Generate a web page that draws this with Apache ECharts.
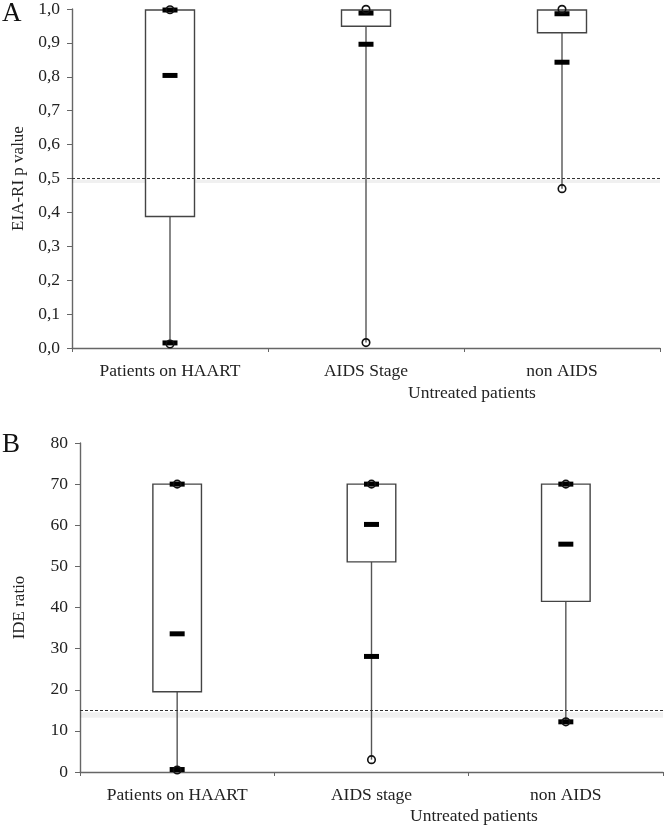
<!DOCTYPE html>
<html>
<head>
<meta charset="utf-8">
<script src="https://cdn.jsdelivr.net/npm/echarts@6/dist/echarts.min.js"></script>
<style>
html,body{margin:0;padding:0;background:#fff;}
#c{width:666px;height:827px;}
</style>
</head>
<body>
<div id="c"></div>
<script>
// ---------- Panel A data (EIA-RI p value) ----------
var catsA = ['Patients on HAART', 'AIDS Stage', 'non AIDS'];
var q1A = [0.388, 0.949, 0.930];
var q3A = [0.997, 0.997, 0.997];
var minA = [0.015, 0.016, 0.470];
var dashA = [[0, 0.997], [0, 0.804], [0, 0.015], [1, 0.988], [1, 0.896], [2, 0.986], [2, 0.843]];
var circA = [[0, 0.998], [0, 0.012], [1, 0.999], [1, 0.016], [2, 0.999], [2, 0.470]];
var cutA = 0.5;
var shadeA = [0.487, 0.497];

// ---------- Panel B data (IDE ratio) ----------
var catsB = ['Patients on HAART', 'AIDS stage', 'non AIDS'];
var q1B = [19.5, 51.1, 41.5];
var q3B = [70, 70, 70];
var minB = [0.6, 3.0, 12.2];
var dashB = [[0, 70], [0, 33.6], [0, 0.6], [1, 70], [1, 60.2], [1, 28.1], [2, 70], [2, 55.4], [2, 12.2]];
var circB = [[0, 70], [0, 0.5], [1, 70], [1, 3.0], [2, 70], [2, 12.2]];
var cutB = 14.9;
var shadeB = [13.2, 14.5];

var FONT = 'Liberation Serif';
var TXT = '#222';

function boxData(q1, q3, mn) {
  return q1.map(function (v, i) { return [i, v, q3[i], mn[i]]; });
}

function renderBox(params, api) {
  var x = api.value(0), q1 = api.value(1), q3 = api.value(2), mn = api.value(3);
  var pTop = api.coord([x, q3]);
  var pBot = api.coord([x, q1]);
  var pMin = api.coord([x, mn]);
  var w = api.size([1, 0])[0] * 0.25;
  return {
    type: 'group',
    children: [
      { type: 'line', shape: { x1: pBot[0], y1: pBot[1], x2: pMin[0], y2: pMin[1] },
        style: { stroke: '#555', lineWidth: 1.4 } },
      { type: 'rect', shape: { x: pTop[0] - w / 2, y: pTop[1], width: w, height: pBot[1] - pTop[1] },
        style: { fill: '#fff', stroke: '#444', lineWidth: 1.4 } }
    ]
  };
}

function xAxisCfg(grid, cats) {
  return {
    type: 'category', gridIndex: grid, data: cats,
    axisLine: { lineStyle: { color: '#666', width: 1.4 } },
    axisTick: { show: true, length: 4, lineStyle: { color: '#666' } },
    axisLabel: { color: TXT, fontFamily: FONT, fontSize: 17.5, margin: 14 },
    splitLine: { show: false }
  };
}

function yAxisCfg(grid, min, max, interval, name, gap, fmt) {
  return {
    type: 'value', gridIndex: grid, min: min, max: max, interval: interval,
    name: name, nameLocation: 'middle', nameGap: gap, nameRotate: 90,
    nameTextStyle: { color: TXT, fontFamily: FONT, fontSize: 17 },
    axisLine: { show: true, lineStyle: { color: '#666', width: 1.4 } },
    axisTick: { show: true, length: 5, lineStyle: { color: '#666' } },
    axisLabel: { color: TXT, fontFamily: FONT, fontSize: 17.5, margin: 12, formatter: fmt },
    splitLine: { show: false }
  };
}

function cutLine(val) {
  return {
    silent: true, symbol: 'none', label: { show: false },
    lineStyle: { color: '#333', type: [3, 2], width: 1 },
    data: [{ yAxis: val }]
  };
}

function shade(r) {
  return {
    silent: true, itemStyle: { color: 'rgba(0,0,0,0.06)' },
    data: [[{ yAxis: r[0] }, { yAxis: r[1] }]]
  };
}

var chart = echarts.init(document.getElementById('c'), null, { renderer: 'canvas' });
chart.setOption({
  animation: false,
  backgroundColor: '#fff',
  textStyle: { fontFamily: FONT },
  grid: [
    { left: 72, right: 6, top: 7, height: 341 },
    { left: 80, right: 3, top: 443, height: 329 }
  ],
  xAxis: [xAxisCfg(0, catsA), xAxisCfg(1, catsB)],
  yAxis: [
    yAxisCfg(0, 0, 1, 0.1, 'EIA-RI p value', 44, function (v) { return v.toFixed(1).replace('.', ','); }),
    yAxisCfg(1, 0, 80, 10, 'IDE ratio', 52, function (v) { return String(v); })
  ],
  graphic: [
    { type: 'text', left: 2, top: 0, style: { text: 'A', font: '27px "Liberation Serif"', fill: '#111' } },
    { type: 'text', left: 2, top: 431, style: { text: 'B', font: '27px "Liberation Serif"', fill: '#111' } },
    { type: 'text', left: 408, top: 384, style: { text: 'Untreated patients', font: '17.5px "Liberation Serif"', fill: TXT } },
    { type: 'text', left: 410, top: 807, style: { text: 'Untreated patients', font: '17.5px "Liberation Serif"', fill: TXT } }
  ],
  series: [
    { type: 'custom', xAxisIndex: 0, yAxisIndex: 0, renderItem: renderBox,
      data: boxData(q1A, q3A, minA), markLine: cutLine(cutA), markArea: shade(shadeA), z: 2 },
    { type: 'scatter', xAxisIndex: 0, yAxisIndex: 0, data: dashA, symbol: 'rect',
      symbolSize: [15, 5], itemStyle: { color: '#000', opacity: 1 }, z: 3 },
    { type: 'scatter', xAxisIndex: 0, yAxisIndex: 0, data: circA, symbol: 'circle',
      symbolSize: 7.5, itemStyle: { color: 'rgba(0,0,0,0)', borderColor: '#111', borderWidth: 1.6, opacity: 1 }, z: 4 },
    { type: 'custom', xAxisIndex: 1, yAxisIndex: 1, renderItem: renderBox,
      data: boxData(q1B, q3B, minB), markLine: cutLine(cutB), markArea: shade(shadeB), z: 2 },
    { type: 'scatter', xAxisIndex: 1, yAxisIndex: 1, data: dashB, symbol: 'rect',
      symbolSize: [15, 5], itemStyle: { color: '#000', opacity: 1 }, z: 3 },
    { type: 'scatter', xAxisIndex: 1, yAxisIndex: 1, data: circB, symbol: 'circle',
      symbolSize: 7.5, itemStyle: { color: 'rgba(0,0,0,0)', borderColor: '#111', borderWidth: 1.6, opacity: 1 }, z: 4 }
  ]
});
</script>
</body>
</html>
